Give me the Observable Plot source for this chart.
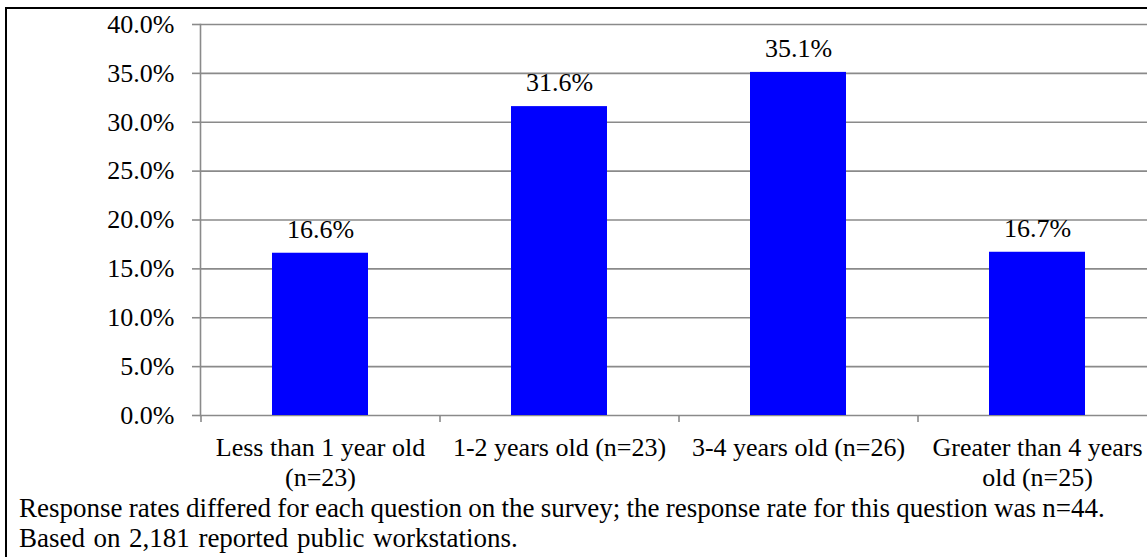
<!DOCTYPE html>
<html><head><meta charset="utf-8">
<script src="https://cdn.jsdelivr.net/npm/d3@7"></script>
<script src="https://cdn.jsdelivr.net/npm/@observablehq/plot@0.6"></script>
<style>
body{margin:0;background:#fff;font-family:"Liberation Serif","Times New Roman",serif;}
#wrap{position:relative;width:1147px;height:557px;overflow:hidden;}
#frame{position:absolute;left:5px;top:7px;width:1200px;height:600px;border:2px solid #000;box-sizing:border-box;}
#chart{position:absolute;left:0;top:0;}
#chart svg text{font-family:"Liberation Serif","Times New Roman",serif;}
.foot{position:absolute;left:19px;font-size:27px;line-height:30px;color:#000;white-space:nowrap;}
</style></head>
<body>
<div id="wrap">
<div id="frame"></div>
<div id="chart"></div>
<div class="foot" id="f1" style="top:493px;word-spacing:-0.5px">Response rates differed for each question on the survey; the response rate for this question was n=44.</div>
<div class="foot" id="f2" style="top:523px;word-spacing:1.8px">Based on 2,181 reported public workstations.</div>
</div>
<script>
const categories = ["Less than 1 year old\n(n=23)", "1-2 years old (n=23)", "3-4 years old (n=26)", "Greater than 4 years\nold (n=25)"];
const values = [16.6, 31.6, 35.1, 16.7];
const yTicks = [0, 5, 10, 15, 20, 25, 30, 35, 40];

const data = categories.map((c, i) => ({cat: c, v: values[i]}));
const fmt = d => d.toFixed(1) + "%";
const FONT = "'Liberation Serif','Times New Roman',serif";
const FS = 26;
const GRAY = "#8a8a8a";
const xRange = [200, 1156];
const halfStep = (xRange[1] - xRange[0]) / categories.length / 2;

const chart = Plot.plot({
  width: 1147,
  height: 490,
  marginTop: 24, marginLeft: 200, marginRight: 0, marginBottom: 75,
  style: {fontFamily: FONT, fontSize: FS + "px", color: "#000", background: "transparent", overflow: "visible"},
  x: {domain: categories, range: xRange, paddingInner: 0.6, paddingOuter: 0.3, label: null},
  y: {domain: [0, 40], label: null},
  marks: [
    Plot.ruleY(yTicks, {stroke: GRAY, strokeWidth: 1.6, strokeOpacity: 1}),
    Plot.frame({anchor: "left", stroke: GRAY, strokeWidth: 1.6, strokeOpacity: 1}),
    Plot.axisY({ticks: yTicks, tickSize: 8, tickPadding: 18, tickFormat: fmt, stroke: GRAY, strokeWidth: 1.6, strokeOpacity: 1, fill: "#000", fontSize: FS, fontFamily: FONT}),
    Plot.axisX({tickSize: 7, tickFormat: () => "", dx: -halfStep, stroke: GRAY, strokeWidth: 1.6, strokeOpacity: 1}),
    Plot.axisX({tickSize: 0, tickPadding: 20, fill: "#000", fontSize: FS, fontFamily: FONT, lineHeight: 1.13}),
    Plot.barY(data, {x: "cat", y: "v", fill: "#0000ff"}),
    Plot.text(data, {x: "cat", y: "v", text: d => fmt(d.v), lineAnchor: "middle", dy: -24, fill: "#000", fontSize: FS, fontFamily: FONT})
  ]
});
document.getElementById("chart").appendChild(chart);
</script>
</body></html>
